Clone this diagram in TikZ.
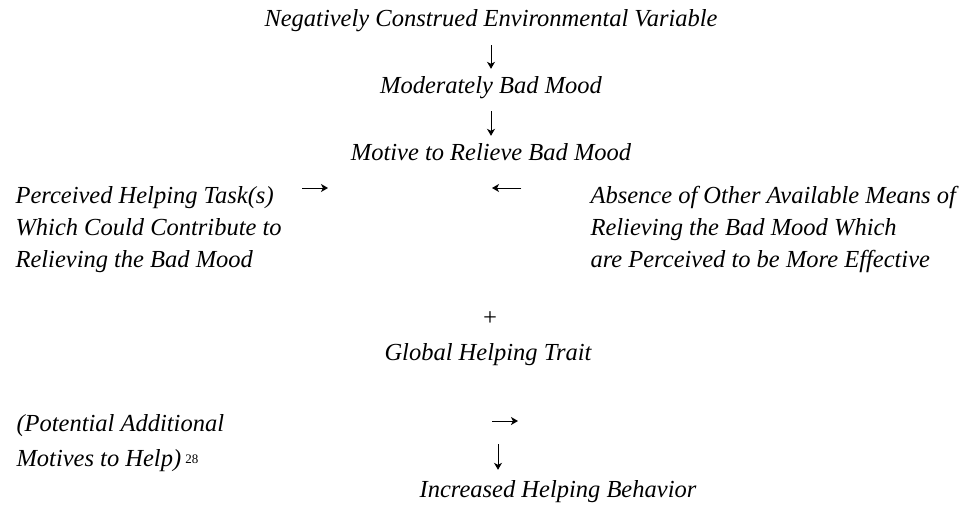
\documentclass[tikz,border=0pt]{standalone}
\usepackage{fontspec}
\setmainfont{Liberation Serif}
\usetikzlibrary{%
    arrows.meta,
    matrix,
    positioning
}

\begin{document}
\begin{tikzpicture}[x=1pt, y=-1pt,
        phrase/.style={font=\fontsize{24.5}{32}\selectfont\itshape,
                       inner sep=0pt, text height=22pt, text depth=10pt,
                       anchor=base},
        arrowline/.style={-{Stealth[length=7pt,width=8pt,inset=2pt]},
                          line width=1pt}
    ]
    \useasboundingbox (0,0) rectangle (964,506);

    \node[phrase] (env)    at (491,27)  {Negatively Construed Environmental Variable};
    \node[phrase] (mood)   at (491,93)  {Moderately Bad Mood};
    \node[phrase] (motive) at (491,160) {Motive to Relieve Bad Mood};

    \matrix (task)  [matrix of nodes, ampersand replacement=\&,
                     row sep=0pt, nodes={phrase, anchor=base west},
                     anchor=north west
                    ] at (12,178) {
        Perceived Helping Task(s)\\
        Which Could Contribute to\\
        Relieving the Bad Mood\\
    };

    \matrix (means) [matrix of nodes, ampersand replacement=\&,
                     row sep=0pt, nodes={phrase, anchor=base west},
                     anchor=north west
                    ] at (587,178) {
        Absence of Other Available Means of\\
        Relieving the Bad Mood Which\\
        are Perceived to be More Effective\\
    };

    \node[phrase] (plus)  at (490,325) {+};
    \node[phrase] (trait) at (488,360) {Global Helping Trait};

    \matrix (extra) [matrix of nodes, ampersand replacement=\&,
                     row sep=2.5pt, nodes={phrase, anchor=base west},
                     anchor=north west
                    ] at (13,406) {
        (Potential Additional\\
        Motives to Help)\,{\upshape\fontsize{13}{13}\selectfont\raisebox{3pt}{28}}\\
    };

    \node[phrase] (incr) at (558,497) {Increased Helping Behavior};

    % arrows
    \coordinate (tasktail) at (302,188);
    \coordinate (tasktip)  at (328,188);
    \coordinate (meanstip) at (492,188);
    \coordinate (addtail)  at (492,421);
    \coordinate (addtip)   at (518,421);
    \coordinate (downtail) at (498,444);

    \foreach \From/\To in {env/mood, mood/motive}
        \draw[arrowline, shorten <=8pt, shorten >=2pt] (\From) -- (\To);
    \draw[arrowline] (tasktail) -- (tasktip);
    \draw[arrowline, shorten <=69pt] (means-1-1.west |- meanstip) -- (meanstip);
    \draw[arrowline] (addtail) -- (addtip);
    \draw[arrowline, shorten >=5pt] (downtail) -- (downtail |- incr.north);
\end{tikzpicture}
\end{document}
